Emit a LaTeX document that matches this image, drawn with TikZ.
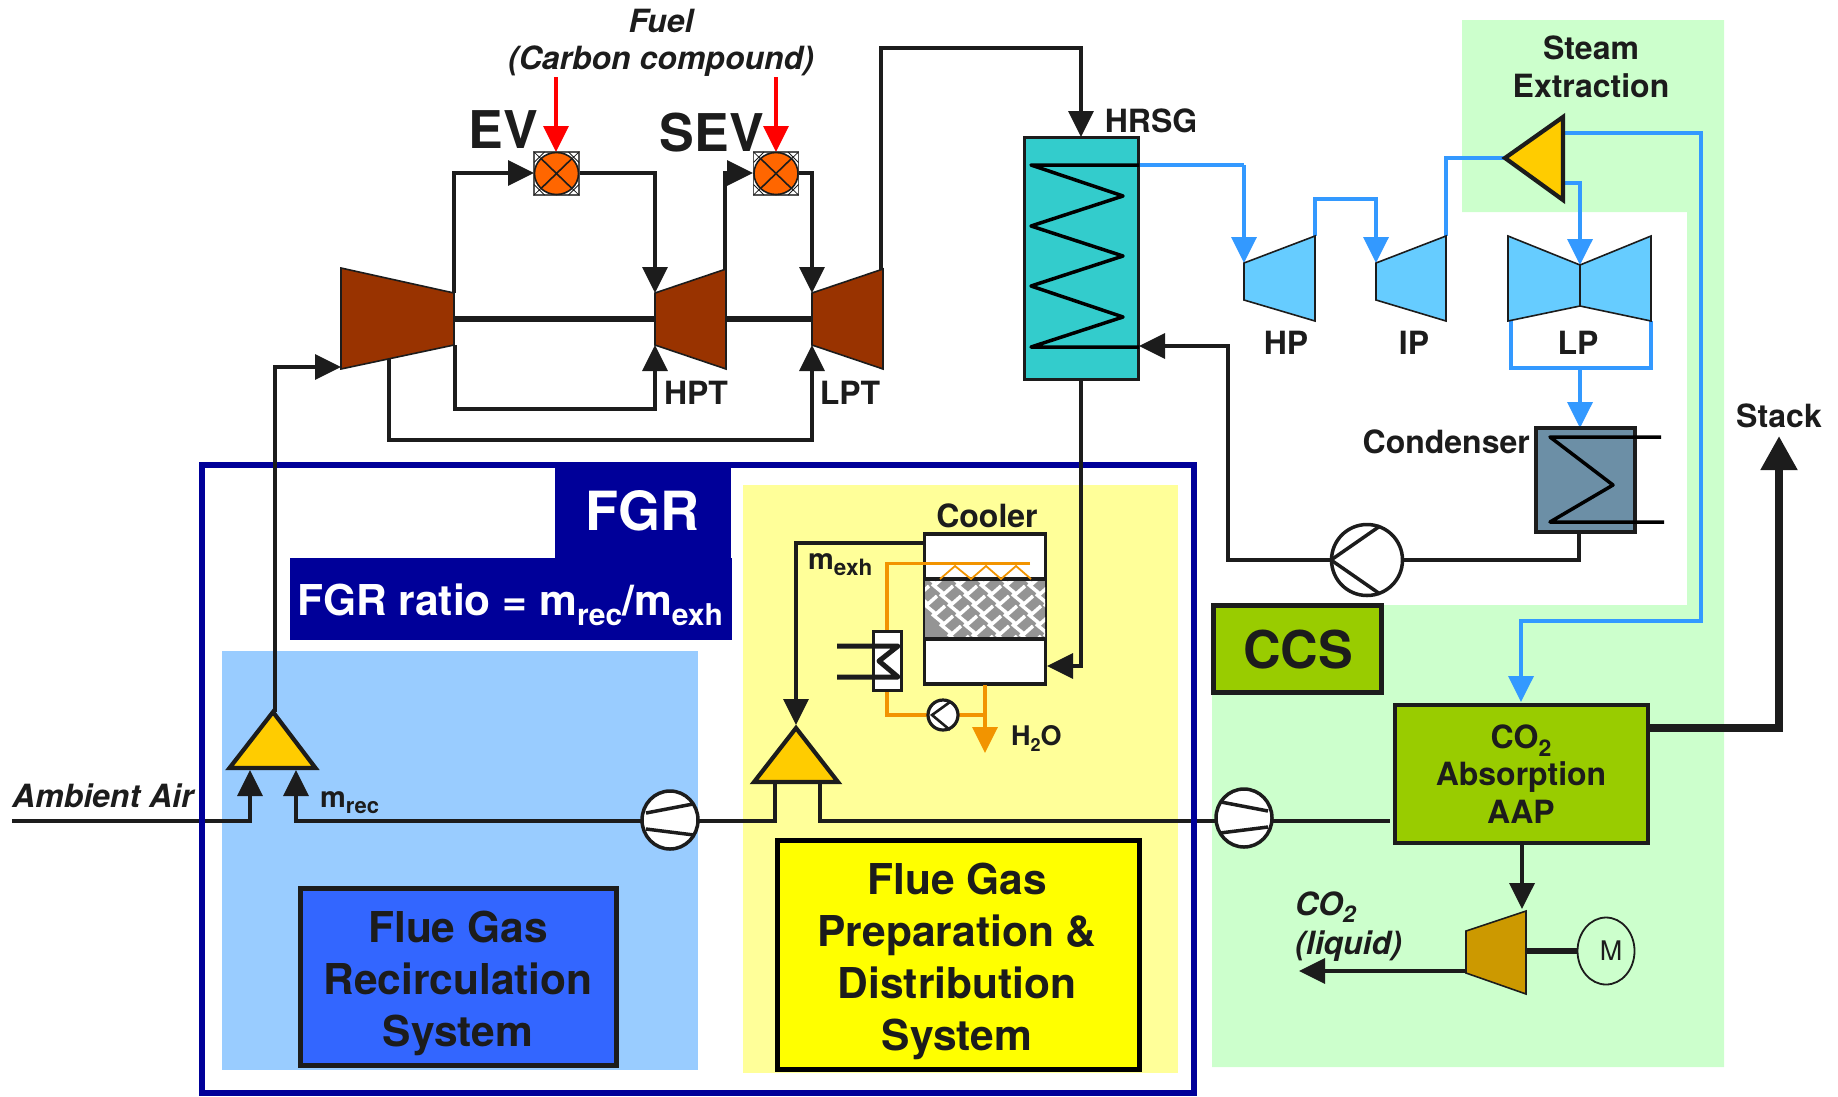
\documentclass[tikz,border=0pt]{standalone}
\usepackage{fontspec}
\setmainfont{TeX Gyre Heros}
\usetikzlibrary{arrows.meta,calc,shapes.geometric}
\definecolor{ink}{HTML}{1C1C1C}
\definecolor{steam}{HTML}{3399FF}
\definecolor{steamfill}{HTML}{66CCFF}
\definecolor{gt}{HTML}{993300}
\definecolor{fgrblue}{HTML}{000099}
\definecolor{panelblue}{HTML}{99CCFF}
\definecolor{panelyellow}{HTML}{FFFF99}
\definecolor{panelgreen}{HTML}{CCFFCC}
\definecolor{ccs}{HTML}{99CC00}
\definecolor{split}{HTML}{FFCC00}
\definecolor{hrsgfill}{HTML}{33CCCC}
\definecolor{cond}{HTML}{6C8FA6}
\definecolor{water}{HTML}{F29400}
\definecolor{valve}{HTML}{FF6600}
\definecolor{sysblue}{HTML}{3366FF}
\definecolor{sysyellow}{RGB}{255,255,0}
\definecolor{pumpfill}{HTML}{CC9900}
\newcommand\subt[2]{\raisebox{-.24em}{\fontsize{#1}{#1}\selectfont #2}}
\newcommand\bsize[1]{\bfseries\fontsize{#1}{#1}\selectfont}
\tikzset{
  flow/.style={draw=ink,line width=3.5pt,line join=miter},
  flowin/.style={flow,-{Triangle[length=26pt,width=25pt]}},
  steamline/.style={draw=steam,line width=3.5pt},
  steamin/.style={steamline,-{Triangle[length=26pt,width=25pt]}},
  wateryline/.style={draw=water,line width=3.5pt},
  fuelin/.style={draw=red,line width=3.5pt,-{Triangle[length=26pt,width=25pt]}},
  lbl/.style={text=ink,inner sep=0pt,anchor=base,font=\bsize{32}},
  itlbl/.style={text=ink,inner sep=0pt,anchor=base,font=\bfseries\itshape\fontsize{32}{32}\selectfont},
  blocklbl/.style={text=ink,inner sep=0pt,align=center},
  turbo/.style={draw=ink,line width=1.6pt,line join=miter},
  splitter/.style={draw=ink,line width=4.2pt,fill=split,line join=miter},
  pics/valvesym/.style={code={
    \draw[draw=ink!75,line width=1.5pt,fill=white] (-22.5,-21.5) rectangle (22.5,21.5);
    \draw[draw=ink,line width=.8pt] (-22.5,-21.5) -- (22.5,21.5) (-22.5,21.5) -- (22.5,-21.5)
       (-22.5,-11) -- (-12,-21.5) (22.5,-11) -- (12,-21.5) (-22.5,11) -- (-12,21.5) (22.5,11) -- (12,21.5);
    \draw[draw=ink,line width=1.6pt,fill=valve] (0,0) ellipse (22 and 21);
    \draw[draw=ink,line width=1.6pt] (-15.5,-15) -- (15.5,15) (-15.5,15) -- (15.5,-15);
  }},
  pics/axialpump/.style={code={
    \draw[draw=ink,line width=3.5pt,fill=white] (0,0) ellipse (28 and 29);
    \draw[draw=ink,line width=3.5pt] (-23,-16) -- (24,-7) (-24,15) -- (24,9);
  }},
  pics/axialpumpmirror/.style={code={
    \draw[draw=ink,line width=3.5pt,fill=white] (0,0) ellipse (28 and 29);
    \draw[draw=ink,line width=3.5pt] (23,-16) -- (-24,-7) (24,15) -- (-24,9);
  }},
}
\begin{document}
\begin{tikzpicture}[x=1pt,y=-1pt]
\useasboundingbox (0,0) rectangle (1838,1096);

% ---------- panels
\fill[panelgreen] (1462,20) -- (1724,20) -- (1724,1067) -- (1212,1067) -- (1212,605) -- (1687,605) -- (1687,212) -- (1462,212) -- cycle;
\fill[panelblue] (222,651) rectangle (698,1070);
\fill[panelyellow] (743,485) rectangle (1178,1073);

% ---------- key coordinates
\coordinate (cin) at (341,367);
\coordinate (cout) at (454,293);
\coordinate (cbleed) at (455,345);
\coordinate (cbleedb) at (389,358);
\coordinate (hptin) at (655,293);
\coordinate (hptcool) at (655,345);
\coordinate (hptout) at (725,270);
\coordinate (lptin) at (812,293);
\coordinate (lptcool) at (812,345);
\coordinate (lptout) at (881,270);
\coordinate (hrsgtop) at (1081,137);
\coordinate (amb) at (12,821);
\coordinate (trib1) at (820,783);
\coordinate (trib0) at (775,783);

% ---------- flue gas lines (behind the frame)
\node[draw=none,inner sep=0pt] (pump1) at (670,821) {};
\node[draw=none,inner sep=0pt] (pump2) at (1244,821) {};
\draw[flow] (pump1) -- (775,821) -- (trib0);
\draw[flow] (trib1) -- (820,821) -- (pump2);
\draw[flow] (pump2) -- (1390,821);
\draw[flowin] (amb) -- (250,821) -- (250,770);

% ---------- FGR frame
\draw[draw=fgrblue,line width=6pt,line join=miter] (202,465) rectangle (1194,1093);
\fill[fgrblue] (555,462) rectangle (731,558);
\fill[fgrblue] (290,558) rectangle (732,640);

% ---------- process lines
\draw[flowin] (pump1) -- (296,821) -- (296,770);
\draw[flowin] (275,712) -- (275,367) -- (cin);
\draw[flowin] (cout) -- (454,173) -- (534,173);
\draw[flowin] (579,173) -- (655,173) -- (hptin);
\draw[flowin] (cbleed) -- (455,409) -- (655,409) -- (hptcool);
\draw[flowin] (cbleedb) -- (389,440) -- (812,440) -- (lptcool);
\draw[flowin] (hptout) -- (725,173) -- (753,173);
\draw[flowin] (798,173) -- (812,173) -- (lptin);
\draw[flowin] (lptout) -- (881,48) -- (1081,48) -- (hrsgtop);
\draw[flowin] (1081,380) -- (1081,666) -- (1047,666);
\draw[flowin] (1330,560) -- (1228,560) -- (1228,346) -- (1139,346);
\draw[flow] (1579,533) -- (1579,560) -- (1403,560);
\draw[flowin] (924,543) -- (796,543) -- (796,725);
\draw[flowin] (1522,844) -- (1522,909);
\draw[flowin] (1466,971) -- (1299,971);
\draw[draw=ink,line width=8pt,-{Triangle[length=34pt,width=35pt]}] (1648,728) -- (1779,728) -- (1779,436);

% ---------- fuel
\draw[fuelin] (556,77) -- (556,152);
\draw[fuelin] (776,77) -- (776,152);

% ---------- steam lines
\draw[steamline] (1139,165) -- (1244,165);
\draw[steamin] (1244,165) -- (1244,263);
\draw[steamin] (1315,236) -- (1315,199) -- (1376,199) -- (1376,263);
\draw[steamline] (1446,236) -- (1446,158) -- (1504,158);
\draw[steamin] (1564,133) -- (1701,133) -- (1701,621) -- (1521,621) -- (1521,702);
\draw[steamin] (1564,183) -- (1580,183) -- (1580,265);
\draw[steamline] (1511,321) -- (1511,368) -- (1651,368) -- (1651,321);
\draw[steamin] (1580,368) -- (1580,428);

% ---------- gas turbine
\draw[turbo,fill=gt] (341,268) -- (454,293) -- (454,345) -- (341,369) -- cycle;
\draw[turbo,fill=gt] (655,293) -- (726,269) -- (726,369) -- (655,345) -- cycle;
\draw[turbo,fill=gt] (812,293) -- (883,269) -- (883,369) -- (812,345) -- cycle;
\draw[draw=ink,line width=6.5pt] (454,319) -- (655,319) (726,319) -- (812,319);
\pic at (556.5,173.5) {valvesym};
\pic at (776,173.5) {valvesym};

% ---------- HRSG
\node[draw=ink,line width=3.5pt,fill=hrsgfill,minimum width=114pt,minimum height=242pt,inner sep=0pt] (hrsg) at (1081.5,258.5) {};
\draw[draw=black,line width=3.5pt,line join=round] (1139,165) -- (1031,165) -- (1123,196) -- (1031,226) -- (1123,256) -- (1031,286) -- (1123,317) -- (1031,347) -- (1139,347);

% ---------- steam turbines
\draw[turbo,fill=steamfill] (1244,263) -- (1315,236) -- (1315,321) -- (1244,300) -- cycle;
\draw[turbo,fill=steamfill] (1376,263) -- (1446,236) -- (1446,321) -- (1376,300) -- cycle;
\draw[turbo,fill=steamfill] (1508,236) -- (1580,265) -- (1651,236) -- (1651,321) -- (1580,306) -- (1508,321) -- cycle;
\draw[draw=ink,line width=1.6pt] (1580,265) -- (1580,306);

% ---------- steam splitter
\draw[splitter] (1505,158) -- (1563,117) -- (1563,200) -- cycle;

% ---------- condenser + feed pump
\node[draw=ink,line width=4pt,fill=cond,minimum width=99pt,minimum height=104pt,inner sep=0pt] (condenser) at (1585,480) {};
\draw[draw=black,line width=3.5pt,line join=round] (1661,437) -- (1550,437) -- (1613,485) -- (1550,522) -- (1664,522);
\node[circle,draw=ink,line width=3.5pt,fill=white,minimum size=71pt,inner sep=0pt] (feedpump) at (1367,560) {};
\draw[draw=ink,line width=3.5pt] (1380,526) -- (1331,560) -- (1380,594);

% ---------- splitters
\draw[splitter] (273,712) -- (229.5,768) -- (315.5,768) -- cycle;
\draw[splitter] (796,728) -- (754,782) -- (838,782) -- cycle;

% ---------- axial compressors
\pic at (670,820) {axialpumpmirror};
\pic at (1244,818) {axialpump};

% ---------- cooler
\node[draw=ink,line width=3.5pt,fill=white,minimum width=121pt,minimum height=150pt,inner sep=0pt] (cooler) at (985,609) {};
\begin{scope}
  \clip (925,579) rectangle (1045,639);
  \fill[black!42] (925,579) rectangle (1045,639);
  \foreach \r in {0,...,7}{
    \foreach \c in {-1,...,6}{
      \draw[white,line width=3.5pt] ({924+\c*24+\r*8},{574+\r*10}) -- ++(12,10) -- ++(9,-8);
    }
  }
\end{scope}
\draw[draw=ink,line width=3.5pt] (925,579) -- (1045,579) (925,639) -- (1045,639);
\draw[draw=water,line width=1.8pt,line join=miter] (940,579) -- (955,566) -- (971,579) -- (986,566) -- (1001,579) -- (1016,566) -- (1031,579);
\draw[wateryline] (1030,563.5) -- (887,563.5) -- (887,630);
\node[draw=ink,line width=3.5pt,fill=white,minimum width=28pt,minimum height=59pt,inner sep=0pt] (hex) at (887.5,661) {};
\draw[draw=ink,line width=5pt,line join=round] (837,646) -- (898,646) -- (879,661) -- (898,677) -- (837,677);
\draw[wateryline] (887,692) -- (887,715) -- (928,715);
\draw[wateryline] (958,715) -- (985,715);
\draw[draw=water,line width=3.5pt,-{Triangle[length=26pt,width=25pt]}] (985,685) -- (985,753);
\node[circle,draw=ink,line width=3.2pt,fill=white,minimum size=30pt,inner sep=0pt] (coolpump) at (943,715) {};
\draw[draw=ink,line width=2.6pt] (950,702) -- (932,715) -- (950,730);

% ---------- system boxes
\node[draw=ink,line width=5pt,fill=sysblue,minimum width=316pt,minimum height=177pt,inner sep=0pt] (recirc) at (458.5,976.5) {};
\node[draw=black,line width=5pt,fill=sysyellow,minimum width=362pt,minimum height=229pt,inner sep=0pt] (prep) at (958,954.5) {};
\node[draw=ink,line width=5pt,fill=ccs,minimum width=168pt,minimum height=87pt,inner sep=0pt] (ccsbox) at (1297,649) {};
\node[draw=ink,line width=4pt,fill=ccs,minimum width=253pt,minimum height=138pt,inner sep=0pt] (absorb) at (1521,774) {};

% ---------- liquefaction pump
\draw[turbo,fill=pumpfill] (1466,931) -- (1526,911) -- (1526,994) -- (1466,973) -- cycle;
\node[ellipse,draw=ink,line width=1.8pt,minimum width=57pt,minimum height=67pt,inner sep=0pt] (motor) at (1606,951) {};
\draw[draw=ink,line width=5.5pt] (1527,951) -- (motor.west);

% ---------- labels
\node[itlbl] (fuel) at (661,32) {Fuel};
\node[itlbl] (carbon) at (661,69) {(Carbon compound)};
\node[lbl,font=\bsize{52}] (evl) at (503,148) {EV};
\node[lbl,font=\bsize{52}] (sevl) at (712,151) {SEV};
\node[lbl] (hptl) at (696,404) {HPT};
\node[lbl] (lptl) at (850,404) {LPT};
\node[lbl] (hrsgl) at (1151,132) {HRSG};
\node[lbl] (hpl) at (1286,354) {HP};
\node[lbl] (ipl) at (1414,354) {IP};
\node[lbl] (lpl) at (1578,354) {LP};
\node[lbl,anchor=base east] (condl) at (1530,453) {Condenser};
\node[lbl] (steaml) at (1591,59) {Steam};
\node[lbl] (extrl) at (1591,97) {Extraction};
\node[lbl] (stackl) at (1779,427) {Stack};
\node[lbl] (coolerl) at (987,527) {Cooler};
\node[lbl,anchor=base west,font=\bsize{29}] (mexhl) at (808,569) {m\subt{22.5}{exh}};
\node[lbl,anchor=base west,font=\bsize{27}] (h2ol) at (1011,745) {H\subt{18}{2}O};
\node[lbl,anchor=base west,font=\bsize{29}] (mrecl) at (320,807) {m\subt{22}{rec}};
\node[itlbl,anchor=base west] (ambl) at (12,807) {Ambient Air};
\node[text=white,inner sep=0pt,anchor=base,font=\bsize{54}] (fgrl) at (642,530) {FGR};
\node[text=white,inner sep=0pt,anchor=base,font=\bsize{42.5}] (ratiol) at (510,615) {FGR ratio = m\subt{30}{rec}/m\subt{30}{exh}};
\node[blocklbl,font=\bsize{52},text=ink] (ccsl) at (1298,650) {CCS};
\node[blocklbl,font=\bfseries\fontsize{42.5}{52}\selectfont] (recl) at (458,983) {Flue Gas\\Recirculation\\System};
\node[blocklbl,font=\bfseries\fontsize{42.5}{52}\selectfont] (prepl) at (957,961) {Flue Gas\\Preparation \&\\Distribution\\System};
\node[blocklbl,font=\bfseries\fontsize{32}{37.5}\selectfont] (absl) at (1521,774) {CO\subt{23}{2}\\Absorption\\AAP};
\node[itlbl,anchor=base west] (co2l) at (1295,915) {CO\subt{23}{2}};
\node[itlbl,anchor=base west] (liql) at (1295,954) {(liquid)};
\node[text=ink,inner sep=0pt,font=\fontsize{27}{27}\selectfont] (ml) at (1611,951) {M};
\end{tikzpicture}
\end{document}
